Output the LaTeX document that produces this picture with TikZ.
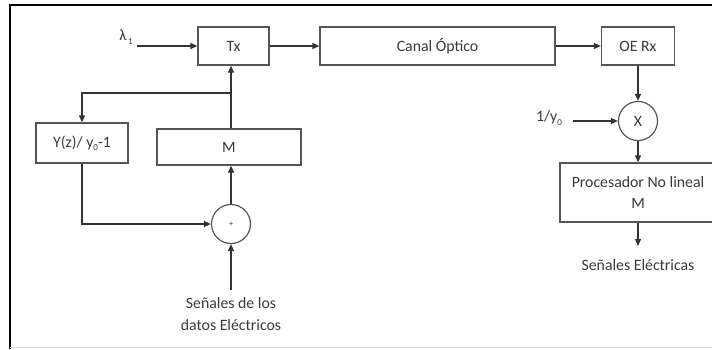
\documentclass[tikz,border=0pt]{standalone}
\usepackage{fontspec}
\setmainfont{Carlito}
\usetikzlibrary{arrows.meta}
\definecolor{ink}{HTML}{3A3A3A}
\definecolor{edge}{HTML}{555555}
\begin{document}
\begin{tikzpicture}[x=1pt,y=-1pt,
  every node/.style={text=ink, font=\fontsize{15.8}{18}\selectfont},
  blk/.style={draw=edge, line width=1.3pt, inner sep=0pt, align=center},
  sumc/.style={draw=edge, line width=1.2pt, circle, minimum size=39pt, inner sep=0pt},
  arr/.style={draw=black!80, line width=1.3pt, -{Triangle[length=7pt,width=6pt]}},
  lbl/.style={inner sep=0pt, align=center}]
\useasboundingbox (0,0) rectangle (712,349);
% frame
\draw[line width=2.5pt, black] (10,349) -- (10,5) -- (713,5);
\draw[line width=1pt, black!15] (10,347.5) -- (713,347.5);
% top row
\node[blk, minimum width=71pt, minimum height=38pt] (tx) at (233.5,46) {Tx};
\node[blk, minimum width=235pt, minimum height=38pt] (canal) at (437.5,46) {Canal Óptico};
\node[blk, minimum width=73pt, minimum height=38pt] (oe) at (638,46) {OE Rx};
\node[lbl] (lam) at (126,37) {λ\raisebox{-0.45ex}{\fontsize{9}{10}\selectfont\,1}};
\coordinate (lamin) at (137,46);
\draw[arr] (lamin) -- (tx.west);
\draw[arr] (tx.east) -- (canal.west);
\draw[arr] (canal.east) -- (oe.west);
% right column
\node[sumc] (mul) at (638,121) {X};
\node[lbl] (inv) at (549,118) {1/y\raisebox{-0.45ex}{\fontsize{9}{10}\selectfont 0}};
\coordinate (invin) at (573,121);
\draw[arr] (oe.south) -- (mul.north);
\draw[arr] (invin) -- (mul.west);
\node[blk, minimum width=156pt, minimum height=59pt] (proc) at (638,192.5)
  {Procesador No lineal\\[3pt]M};
\draw[arr] (mul.south) -- (proc.north);
\coordinate (procout) at (638,246);
\draw[arr] (proc.south) -- (procout);
\node[lbl] (sal) at (638,265) {Señales Eléctricas};
% left part
\node[blk, minimum width=92pt, minimum height=40pt] (yz) at (82,143)
  {Y(z)/ y\raisebox{-0.45ex}{\fontsize{9}{10}\selectfont 0}-1};
\node[blk, minimum width=144pt, minimum height=36pt] (m) at (229,147) {M};
\node[sumc] (sum) at (231,224) {\fontsize{8}{9}\selectfont +};
\coordinate (br) at (231,93);
\coordinate (datin) at (231,290);
\draw[arr] (m.north -| sum) -- (tx.south -| sum);
\draw[arr] (br) -| (yz.north);
\draw[arr] (yz.south) |- (sum.west);
\draw[arr] (sum.north) -- (m.south -| sum);
\draw[arr] (datin) -- (sum.south);
\node[lbl] (dat) at (231,314) {Señales de los\\[4pt]datos Eléctricos};
\end{tikzpicture}
\end{document}
